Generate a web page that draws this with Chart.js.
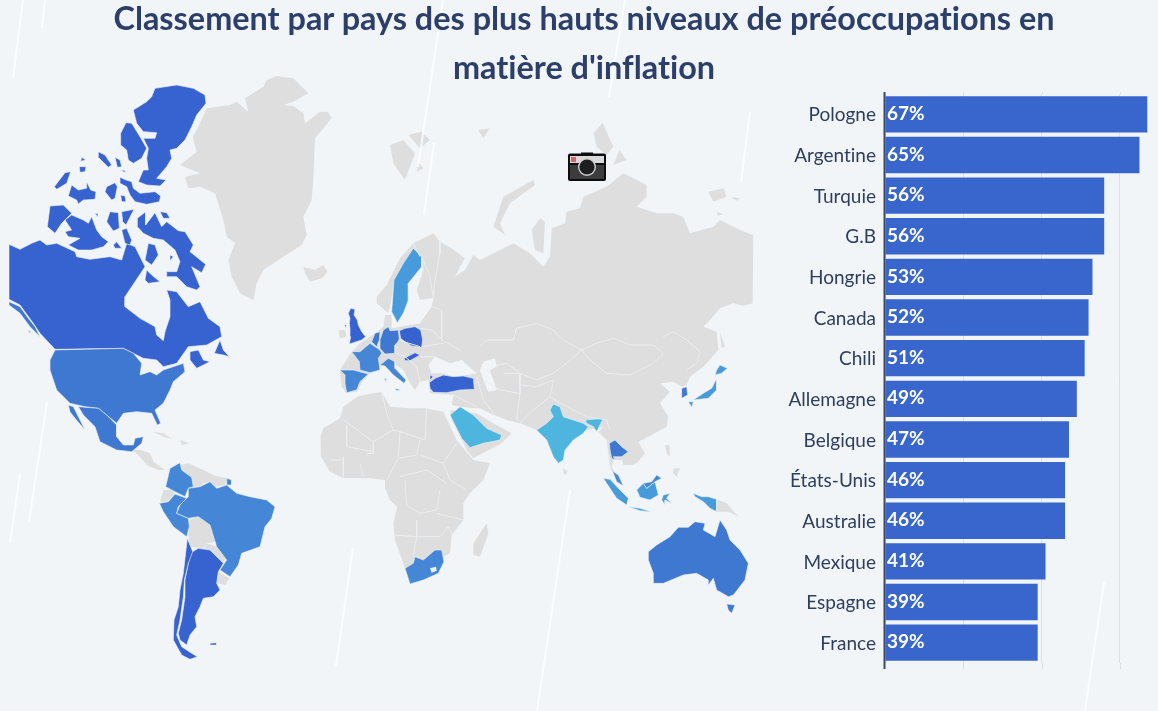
<!DOCTYPE html>
<html lang="fr">
<head>
<meta charset="utf-8">
<title>Classement par pays</title>
<script src="https://cdn.jsdelivr.net/npm/chart.js@4"></script>
<style>
html,body{margin:0;padding:0;width:1158px;height:711px;overflow:hidden;background:#f2f5f8}
#map{position:absolute;left:0;top:0}
#bars{position:absolute;left:760px;top:92px}
h1{position:absolute;left:0;top:-7px;width:1168px;margin:0;text-align:center;font:700 32.4px/49px Lato,sans-serif;font-variant-ligatures:none;color:#2c3f6b}
</style>
</head>
<body>
<canvas id="map" width="1158" height="711"></canvas>
<canvas id="bars" width="398" height="577"></canvas>
<h1>Classement par pays des plus hauts niveaux de préoccupations en<br>matière d'inflation</h1>
<script>
const countries=["Pologne","Argentine","Turquie","G.B","Hongrie","Canada","Chili","Allemagne","Belgique","États-Unis","Australie","Mexique","Espagne","France"];
const shares=[67,65,56,56,53,52,51,49,47,46,46,41,39,39];
const gridTicks=[0,20,40,60];

// map outlines in map units
const z=(ox,oy,a)=>{const r=[];for(let i=0;i<a.length;i+=2)r.push([ox+a[i]/3,oy+a[i+1]/3]);return r;};
const N=(a)=>z(0,70,a), S=(a)=>z(0,390,a), E=(a)=>z(320,200,a), T=(a)=>z(380,90,a), F=(a)=>z(310,380,a), O=(a)=>z(380,440,a), G=(a)=>z(330,290,a);

const canadaMain=N([27,523,60,538,95,520,120,510,140,525,170,520,225,545,230,560,270,568,330,560,365,570,380,520,405,530,425,570,435,590,405,635,375,680,375,710,420,745,465,770,470,795,490,812,495,785,510,740,510,690,500,660,530,665,565,710,600,695,625,745,660,770,665,800,620,825,565,830,530,880,490,890,470,870,430,865,400,850,370,835,165,838,120,790,100,760,60,705,27,688]);
const canadaIslands=[
N([400,120,440,95,455,80,465,55,530,45,580,55,615,75,618,100,590,135,575,170,555,210,530,235,510,240,515,265,500,290,470,325,498,330,480,348,440,345,415,335,430,300,445,300,440,265,445,235,430,205,465,205,470,188,430,185,410,160]),
N([378,158,395,160,420,200,440,235,425,265,400,280,385,270,380,240,362,225,362,190]),
N([295,245,315,255,335,285,325,292,295,262]),N([345,262,360,270,365,290,352,292]),N([245,262,257,270,242,274]),N([238,290,258,290,255,305,240,307]),N([365,300,378,302,372,307]),
N([195,308,212,305,200,340,170,358,163,350]),
N([215,345,235,360,258,355,260,335,272,360,288,365,285,388,250,390,235,402,230,390,205,378]),
N([320,350,345,338,352,350,345,385,335,390,315,365]),N([362,375,375,378,378,395,365,395]),
N([360,322,378,330,395,335,400,355,420,370,465,365,482,378,478,395,440,403,405,395,390,375,380,350,360,340]),
N([150,408,190,405,215,430,185,460,165,490,142,470]),
N([195,450,215,435,250,450,265,460,275,440,290,480,305,500,325,515,310,530,275,540,235,540,205,525,240,505,205,500,195,485,215,480]),
N([320,455,330,425,355,428,358,475,340,483]),N([365,425,402,418,378,465,368,455]),N([365,480,380,475,395,510,390,525,375,520]),N([340,525,350,515,365,535,345,535]),N([285,430,295,432,292,440]),
N([412,445,437,425,437,465,465,428,485,470,500,455,535,482,555,485,580,525,570,545,617,583,605,608,575,590,600,650,590,660,560,650,530,620,500,620,500,605,530,605,540,575,525,540,490,510,460,505,430,490,412,470]),
N([480,425,500,428,510,445,490,445]),N([445,520,465,525,475,555,455,585,435,570]),N([510,555,520,560,510,572]),N([440,600,455,615,480,635,445,640,435,630]),
N([660,810,670,840,688,860,670,855,643,850]),N([85,780,92,785,90,790]),N([570,845,595,840,610,870,630,875,590,895,570,870])];
const usa=[...N([165,840,370,835,400,850,425,880,420,915,450,905,470,915,490,900,550,880,555,905,520,935,510,960]),...S([490,40,465,60,482,100,472,105,455,70,410,65,370,70,350,100,320,75,295,55,255,50,210,40,170,0]),...N([150,900,150,870])];
const alaskaStrip=N([27,695,60,710,85,745,105,770,120,800,90,770,60,730,27,705]);
const mexico=[S([235,50,295,55,320,75,350,105,350,140,370,165,400,165,405,145,430,140,425,160,395,185,350,180,300,155,285,110,250,75]),S([205,45,220,50,245,100,255,120,225,85,210,65])];
const centralAmerica=[S([395,180,420,180,450,190,460,215,495,240,475,240,440,225,415,195]),S([460,125,490,130,520,148,490,140]),S([540,150,570,160,545,165])];
const colombia=S([510,235,540,218,545,240,575,262,580,290,565,295,555,320,525,305,497,290]);
const venezuela=S([540,225,565,220,610,240,640,255,635,275,610,280,600,295,580,295,575,262,545,240]);
const guianas=S([635,255,680,265,675,285,645,290,630,275]);
const frGuiana=S([680,265,695,270,695,285,678,285]);
const ecuador=S([490,300,520,300,525,310,500,335,480,335]);
const peru=S([478,340,505,335,525,312,560,325,535,350,530,370,565,385,568,410,560,440,520,410,490,365]);
const brazil=S([565,295,600,290,630,275,650,295,680,285,710,310,750,320,800,330,825,350,815,385,795,410,780,470,725,490,715,525,690,560,660,540,680,510,650,470,630,405,595,380,565,385,530,370,540,345,565,320]);
const bolivia=S([568,390,595,378,630,405,655,445,645,455,620,460,610,475,570,470,565,430]);
const paraguay=S([620,460,650,470,680,505,665,520,645,500,610,480]);
const uruguay=S([655,545,688,565,675,585,650,580]);
const argentina=[S([570,490,595,475,630,480,650,500,670,520,655,545,650,580,660,600,640,620,610,625,600,650,585,680,590,710,570,735,560,765,540,750,535,730,545,690,555,620,555,570,565,520]),S([630,760,650,758,650,765,632,765])];
const chile=S([562,445,578,485,565,520,553,570,550,620,540,690,530,735,545,770,575,790,592,800,570,808,545,795,520,750,522,690,535,650,540,600,550,550]);
const greenland=N([800,30,830,18,880,25,925,70,880,95,850,105,880,108,910,130,915,160,960,125,985,125,995,145,970,175,945,205,940,330,935,390,910,440,920,495,905,525,850,560,790,600,770,640,760,690,720,670,695,620,685,570,705,520,680,500,670,450,645,370,600,350,565,355,555,320,600,310,540,285,590,245,578,200,600,160,620,115,690,105,710,95,745,125,735,85,790,50]);
const iceland=N([910,590,945,600,970,585,982,605,965,625,930,635,915,610]);
const eurasia=[...T([180,455,215,475,255,505,240,530,225,560,255,540,280,495,300,510,350,485,400,460,450,490,490,530,510,500,515,415,555,400,560,365,600,355,610,320,680,290,730,250,800,285,800,320,770,350,830,370,880,370,910,380,930,430,1000,410,1020,390,1080,420,1118,435]),
...E([1300,100,1298,310,1270,318,1240,310,1200,325,1170,360,1150,380,1190,395,1195,450,1150,500,1110,530,1100,555,1085,560,1060,545,1020,550,1050,575,1020,610,1045,650,1040,680,985,710,955,725,975,760,950,790,925,795,905,780,880,780,875,800,905,850,870,800,860,720,835,695,850,680,800,690,760,720,735,755,715,790,700,770,680,720,650,690,600,670,560,660,510,640,480,625,470,625,420,620,395,615,400,585,330,580,325,540,300,545,285,570,270,550,250,510,220,490,180,500,150,520,130,540,110,575,78,578,65,560,60,510,95,455,120,430,165,400,190,380,195,345,215,345,215,385,300,370,335,320,340,295,300,300,290,270,310,210,305,170,280,150,250,190,225,240,210,320,205,340,170,310,170,290,200,255,240,175,280,130,340,100,360,125])];
const blackSea=E([345,470,390,490,425,480,470,520,440,525,400,530,370,520,335,520,325,495]);
const caspian=E([490,485,525,475,530,500,510,510,530,570,505,575,490,540,480,510]);
const arcticIslands=[T([30,165,70,150,105,190,75,270,40,220]),T([85,135,125,125,150,150,120,175]),T([115,215,130,235,110,245]),T([295,120,330,115,310,145]),T([340,410,370,320,460,270,465,285,390,340,360,400,375,435]),T([455,420,480,385,495,395,490,490,465,480]),T([640,130,668,98,700,170,680,195,650,170]),T([700,225,718,180,740,210]),T([985,305,1030,295,1040,320,1000,335]),T([1050,320,1080,325,1070,332]),T([1010,365,1030,372,1015,378]),E([1200,395,1215,440,1205,445]),E([55,390,75,390,80,410,60,415]),O([550,85,562,92,558,105,550,100]),O([855,15,868,15,870,50,860,40]),O([880,85,900,85,890,110,880,100]),O([1010,178,1040,190,1075,230,1045,215,1010,215]),O([725,50,770,50,760,75,730,75])];
const africa=F([40,145,90,115,100,80,145,48,215,35,240,80,300,85,345,85,400,95,440,180,490,240,540,250,520,300,480,340,460,370,460,420,425,465,420,520,400,530,385,580,300,610,285,565,255,480,250,430,262,380,240,360,225,325,225,300,180,295,100,295,60,275,30,225,32,170]);
const madagascar=F([530,430,535,460,510,530,490,525,490,490]);
const arabia=F([420,90,500,100,550,130,605,160,575,190,490,235,470,210,425,120]);
const saudi=F([420,105,450,80,490,105,530,145,575,165,570,180,520,190,480,203,455,175]);
const southAfrica=F([285,565,310,550,315,530,340,540,375,510,395,510,402,545,385,580,340,600,300,612]);
const lesotho=F([360,565,378,560,380,572,365,578]);
const australia=[O([805,335,830,315,870,290,895,262,925,262,945,245,975,250,970,270,1005,290,1020,240,1040,270,1050,300,1080,330,1105,370,1095,420,1060,465,1045,470,1010,450,1000,415,985,435,985,420,950,400,910,405,850,430,820,430,820,400,805,360]),O([1040,492,1065,495,1055,520,1045,510])];
const indonesia=[O([670,115,690,118,720,150,745,175,740,195,710,175]),O([745,200,780,205,815,215,780,212]),O([770,150,790,130,800,145,825,125,835,165,810,180,780,172]),O([850,165,870,160,860,175,875,190,855,180,855,195,845,180]),O([940,160,965,170,985,170,1010,178,1010,215,990,205,970,185,945,170])];
const malaysia=[O([690,78,700,95,715,105,730,138,710,125,700,100]),O([790,130,815,125,830,105,845,115,825,125,800,145])];
const thailand=O([688,10,705,0,725,20,745,35,725,50,715,50,700,50,705,60,695,55,690,30]);
const india=[E([700,612,720,620,730,650,790,670,805,680,790,700,760,720,735,750,730,780,715,790,700,770,680,720,650,690,680,670,700,650,690,630]),E([795,660,850,655,830,695,820,680,800,670])];
const japan=[E([1190,535,1190,570,1165,595,1120,600,1150,580,1175,565]),E([1200,495,1222,505,1205,520,1185,525,1190,510]),E([1105,605,1120,605,1115,622])];
const southKorea=E([1085,565,1100,560,1103,585,1085,595]);
const turkey=[E([328,548,345,535,370,525,400,530,430,528,460,535,463,568,420,570,380,578,340,577,330,565]),E([330,525,340,530,330,540])];
const poland=G([208,122,225,115,255,110,272,120,278,150,275,172,245,168,225,155,212,145]);
const germany=G([160,120,175,110,180,122,205,120,208,150,195,165,195,190,165,192,150,175,150,150]);
const france=G([65,185,90,185,120,160,150,180,155,190,145,205,150,240,120,248,90,240,88,215]);
const spain=G([30,240,70,240,115,252,90,275,80,300,50,308,45,280,45,255]);
const belgium=G([125,155,135,130,150,125,148,150,140,170]);
const uk=[G([55,70,62,55,75,58,72,75,82,90,85,105,95,125,107,140,95,150,70,158,58,162,62,140,60,115,58,100,60,85]),G([43,105,50,105,50,116])];
const hungary=G([222,205,255,188,270,195,240,212,225,212]);
const italy=[G([150,225,175,205,195,215,195,235,228,270,222,280,190,255,165,228]),G([163,265,170,265,168,280]),G([195,295,212,300,200,302])];
const sweden=E([280,145,305,170,305,200,265,250,265,300,250,340,232,368,215,335,222,240,250,190]);

// interior frontiers and the pale streaks of the backdrop
const frontiers=[
E([480,440,500,420,580,420,590,385,650,370,700,390,730,420,785,450]),
E([785,450,830,430,880,415,930,435,1000,435,1030,460,1000,490,930,525,860,520,810,480,785,450]),
E([785,450,740,490,700,520,650,540,600,520,560,490,530,495]),
E([1030,410,1060,395,1100,420,1140,455,1130,490,1100,510]),
E([690,590,740,620,800,650,860,660,870,690]),
E([470,530,490,600,520,640]),E([600,580,590,660]),E([600,555,650,560,700,540,690,590,640,630,600,670]),E([550,520,600,520,600,580,540,570,490,540]),
E([300,385,335,390,365,420,420,450]),E([305,440,370,430]),E([300,470,345,470]),E([235,420,300,440]),E([230,460,255,470,290,500,300,545]),E([335,320,365,330,365,420]),E([305,170,330,230,340,295]),E([280,130,300,170]),
E([400,585,470,620]),E([360,125,360,160,345,240,340,295]),
F([100,120,190,185,250,150,230,100,215,35]),F([250,150,270,155,345,180,350,85]),F([190,185,190,220,170,220]),F([110,135,110,200,190,215]),F([270,155,265,235,320,225,330,180]),F([330,225,400,250,440,190]),F([400,250,420,300,470,330]),F([265,235,230,300]),F([270,290,350,270,410,310]),F([285,300,290,375,330,400,380,390,390,330]),F([380,400,460,420]),F([320,420,320,470]),F([250,465,320,470,310,530]),F([315,470,390,470,415,440,425,460]),F([100,230,100,295]),F([150,250,160,290]),F([60,240,100,240])];
const streaks=[[[23,0],[13,78]],[[45,0],[42,28]],[[443,0],[418,167]],[[434,143],[424,215]],[[625,0],[609,97]],[[750,112],[741,182]],[[47,402],[29,522]],[[20,474],[10,543]],[[353,548],[336,666]],[[570,490],[537,711]],[[1104,582],[1085,711]]];

const GREY="#dedede",C1="#3763d0",C2="#3e78d1",C3="#4587d6",C4="#489bdb",C5="#4db5de",BG="#f2f5f8";
const layers=[[greenland,GREY],[iceland,GREY],[eurasia,GREY],[africa,GREY],[madagascar,GREY],[arabia,GREY],[blackSea,BG],[caspian,BG],[venezuela,GREY],[guianas,GREY],[ecuador,GREY],[bolivia,GREY],[paraguay,GREY],[uruguay,GREY],
 ...arcticIslands.map(p=>[p,GREY]),...centralAmerica.map(p=>[p,GREY]),
 [canadaMain,C1],...canadaIslands.map(p=>[p,C1]),[usa,C2],[alaskaStrip,C2],...mexico.map(p=>[p,C2]),[colombia,C3],[frGuiana,C3],[peru,C3],[brazil,C3],...argentina.map(p=>[p,C1]),[chile,C1],
 [saudi,C5],[southAfrica,C3],[lesotho,BG],...australia.map(p=>[p,C2]),...indonesia.map(p=>[p,C4]),...malaysia.map(p=>[p,C3]),[thailand,C2],...india.map(p=>[p,C5]),...japan.map(p=>[p,C4]),[southKorea,C2],...turkey.map(p=>[p,C1]),[poland,C1],[germany,C2],[france,C3],[spain,C3],[belgium,C2],...uk.map(p=>[p,C1]),[hungary,C1],...italy.map(p=>[p,C3]),[sweden,C4]];
const toXY=p=>p.map(([x,y])=>({x,y}));
const base={showLine:true,tension:0,pointRadius:0,pointHoverRadius:0};
const datasets=[
 ...layers.map(([p,c])=>({...base,data:toXY([...p,p[0]]),fill:'shape',backgroundColor:c,borderColor:(c===GREY||c===BG)?c:'#eef2f7',borderWidth:(c===GREY||c===BG)?0:0.6})),
 ...frontiers.map(p=>({...base,data:toXY(p),borderColor:'#eceef1',borderWidth:1})),
 ...streaks.map(p=>({...base,data:toXY(p),borderColor:'rgba(255,255,255,.75)',borderWidth:2}))
].reverse();

const cameraPlugin={id:'camera',afterDatasetsDraw(ch){
 const c=ch.ctx,X=v=>ch.scales.x.getPixelForValue(v),Y=v=>ch.scales.y.getPixelForValue(v);
 c.save();
 c.fillStyle='#0d0d0f';c.beginPath();c.roundRect(X(568),Y(153.5),38,27.5,2);c.fill();
 c.fillRect(X(581),Y(152.5),12,3);
 c.fillStyle='#3c3c3e';c.fillRect(X(570),Y(165),34,14);
 c.fillStyle='#d9d9d9';c.fillRect(X(570),Y(156),34,7);
 c.fillStyle='#d9675c';c.fillRect(X(571),Y(157),5,5);
 c.beginPath();c.arc(X(587),Y(167),9,0,7);c.fillStyle='#cfcfcf';c.fill();
 c.beginPath();c.arc(X(587),Y(167),7.6,0,7);c.fillStyle='#1e1e20';c.fill();
 c.restore();
}};

new Chart(document.getElementById('map'),{type:'scatter',data:{datasets},plugins:[cameraPlugin],options:{
 responsive:false,animation:false,devicePixelRatio:1,events:[],layout:{padding:0},
 plugins:{legend:{display:false},tooltip:{enabled:false},title:{display:false}},
 scales:{x:{type:'linear',display:false,min:0,max:1158},y:{type:'linear',display:false,reverse:true,min:0,max:711}}
}});

const barExtras={id:'barExtras',
 afterUpdate(ch){const s=ch.scales.y;s._labelItems=s.getLabelItems().map(it=>({...it,options:{...it.options,translation:[it.options.translation[0],it.options.translation[1]+1]}}));},
 beforeDraw(ch){ch.ctx.letterSpacing='0.01px';},
 beforeDatasetsDraw(ch){
  const c=ch.ctx,{x}=ch.scales,a=ch.chartArea;
  c.save();
  c.strokeStyle='#dcdfe4';c.lineWidth=1;
  gridTicks.slice(1).forEach(t=>{const px=Math.round(x.getPixelForValue(t))+.5;c.beginPath();c.moveTo(px,0);c.lineTo(px,a.top);c.moveTo(px,a.bottom);c.lineTo(px,ch.height);c.stroke();});
  c.restore();
 },
 afterDatasetsDraw(ch){
  const c=ch.ctx,{x}=ch.scales,meta=ch.getDatasetMeta(0);
  c.save();
  c.strokeStyle='#3a4a68';c.lineWidth=2;
  const ax=x.getPixelForValue(0)-.5;c.beginPath();c.moveTo(ax,0);c.lineTo(ax,ch.height);c.stroke();
  c.fillStyle='#fff';c.font='700 19px Lato';c.textBaseline='middle';c.textAlign='left';
  meta.data.forEach((b,i)=>c.fillText(shares[i]+'%',x.getPixelForValue(0)+2,b.y-.5));
  c.restore();
 }};

new Chart(document.getElementById('bars'),{type:'bar',
 data:{labels:countries,datasets:[{data:shares,backgroundColor:'#3966cc',borderWidth:0,barPercentage:.895,categoryPercentage:1}]},
 plugins:[barExtras],
 options:{indexAxis:'y',responsive:false,animation:false,devicePixelRatio:1,events:[],
  layout:{padding:{top:2,bottom:6,right:6.8,left:0}},
  plugins:{legend:{display:false},tooltip:{enabled:false},title:{display:false}},
  scales:{
   x:{type:'linear',min:0,max:68,afterBuildTicks(s){s.ticks=gridTicks.map(value=>({value}));},afterFit(s){s.height=0;s.paddingLeft=0;s.paddingRight=0;},ticks:{display:false},grid:{color:'#dcdfe4',drawTicks:false},border:{display:false}},
   y:{type:'category',afterFit(s){s.width=125;s.paddingTop=0;s.paddingBottom=0;},grid:{display:false,drawTicks:false},border:{display:false},ticks:{color:'#2d3e5e',padding:9,font:{family:'Lato',size:19},autoSkip:false}}
  }
 }});
</script>
</body>
</html>
